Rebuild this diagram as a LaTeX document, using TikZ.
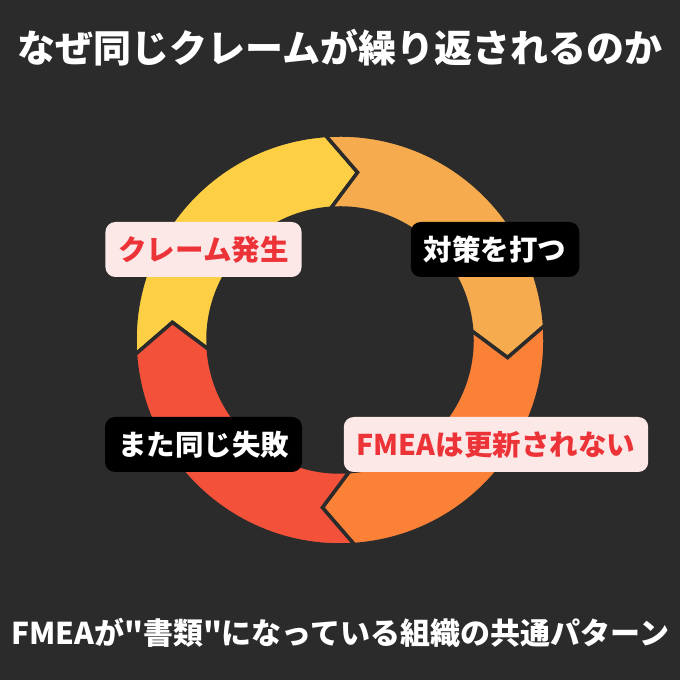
\documentclass[tikz,border=0pt]{standalone}
\usepackage{fontspec}
\newfontfamily\jpfont{Noto Sans CJK JP}
\definecolor{bg}{HTML}{2B2B2B}
\definecolor{segyellow}{HTML}{FCCF45}
\definecolor{seglight}{HTML}{F6AB4E}
\definecolor{segorange}{HTML}{FB8137}
\definecolor{segred}{HTML}{F4513A}
\definecolor{pinkfill}{HTML}{FDE8E8}
\definecolor{redtext}{HTML}{EC3338}
\newcommand{\ringpiece}[3]{%
  \filldraw[fill=#3, draw=bg, line width=3.5pt, line join=miter]
    (#1:205pt) arc[start angle=#1, end angle=#2, radius=205pt]
    -- ({#2-10}:168.5pt) -- (#2:132pt)
    arc[start angle=#2, end angle=#1, radius=132pt]
    -- ({#1-10}:168.5pt) -- cycle;}
\tikzset{
  labelbox/.style={rounded corners=10pt, minimum height=55pt, inner xsep=13pt,
    font=\jpfont\fontsize{28.5}{32}\selectfont\bfseries},
  pinkbox/.style={labelbox, fill=pinkfill, text=redtext},
  blackbox/.style={labelbox, fill=black, text=white},
  headline/.style={text=white, font=\jpfont\fontsize{38}{42}\selectfont\bfseries},
  footline/.style={text=white, font=\jpfont\fontsize{30}{34}\selectfont\bfseries}
}
\begin{document}
\begin{tikzpicture}[x=1pt,y=1pt]
\useasboundingbox (0,0) rectangle (680,680);
\fill[bg] (0,0) rectangle (680,680);
\begin{scope}[shift={(340,340)}]
  \ringpiece{184}{94}{segyellow}
  \ringpiece{94}{4}{seglight}
  \ringpiece{4}{-86}{segorange}
  \ringpiece{-86}{-176}{segred}
\end{scope}
\node[headline] (title) at (340,632) {なぜ同じクレームが繰り返されるのか};
\node[footline] (foot) at (340,47) {FMEAが"書類"になっている組織の共通パターン};
\node[pinkbox] (claim) at (203.5,430.5) {クレーム発生};
\node[blackbox] (measure) at (495,430.5) {対策を打つ};
\node[blackbox] (again) at (203.5,235.5) {また同じ失敗};
\node[pinkbox] (fmea) at (496,235.5) {FMEAは更新されない};
\end{tikzpicture}
\end{document}
